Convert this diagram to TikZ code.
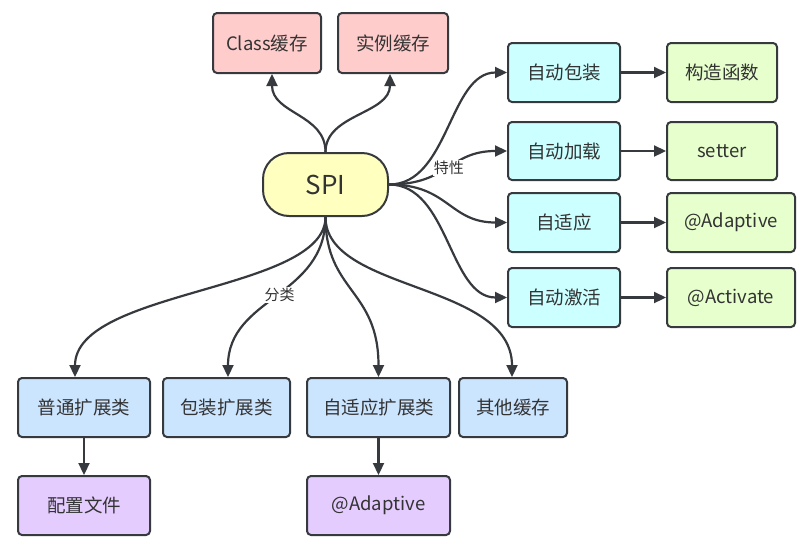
\documentclass[tikz,border=0pt]{standalone}
\usepackage{fontspec}
\setmainfont{Noto Sans CJK SC}
\usetikzlibrary{arrows.meta}
\definecolor{edge}{HTML}{36393D}
\definecolor{txt}{HTML}{333333}
\definecolor{pinkf}{HTML}{FFCCCC}
\definecolor{yelf}{HTML}{FFFFC0}
\definecolor{cyanf}{HTML}{CCFFFF}
\definecolor{greenf}{HTML}{E6FFCC}
\definecolor{bluef}{HTML}{CCE5FF}
\definecolor{purplef}{HTML}{E5CCFF}
\tikzset{
  box/.style={draw=edge, line width=2pt, rounded corners=4pt, minimum height=59pt, inner sep=0pt, text=txt, font=\fontsize{18.5}{21}\selectfont},
  conn/.style={draw=edge, line width=2.2pt, -{Triangle[length=12pt,width=11pt]}},
  lbl/.style={fill=white, inner sep=1pt, text=txt, font=\fontsize{15}{17}\selectfont}
}
\begin{document}
\begin{tikzpicture}[x=1pt,y=-1pt]
\useasboundingbox (0,0) rectangle (808,547);
% top
\node[box, fill=pinkf, minimum width=108pt, minimum height=60pt] (c1) at (267,43) {Class缓存};
\node[box, fill=pinkf, minimum width=110pt, minimum height=60pt] (c2) at (393,43) {实例缓存};
% center
\node[draw=edge, line width=2pt, fill=yelf, rounded corners=26pt, minimum width=125pt, minimum height=63pt, text=txt, font=\fontsize{26}{29}\selectfont] (spi) at (325.5,184.5) {SPI};
% right column 1
\node[box, fill=cyanf, minimum width=112pt] (r1) at (564,72.5) {自动包装};
\node[box, fill=cyanf, minimum width=112pt, minimum height=58pt] (r2) at (564,151) {自动加载};
\node[box, fill=cyanf, minimum width=112pt] (r3) at (564,222.5) {自适应};
\node[box, fill=cyanf, minimum width=112pt] (r4) at (564,297.5) {自动激活};
% right column 2
\node[box, fill=greenf, minimum width=110pt] (g1) at (722,72.5) {构造函数};
\node[box, fill=greenf, minimum width=110pt, minimum height=58pt] (g2) at (722,151) {setter};
\node[box, fill=greenf, minimum width=128pt] (g3) at (731,222.5) {@Adaptive};
\node[box, fill=greenf, minimum width=128pt] (g4) at (731,297.5) {@Activate};
% bottom row
\node[box, fill=bluef, minimum width=132pt] (b1) at (84,407.5) {普通扩展类};
\node[box, fill=bluef, minimum width=127pt] (b2) at (226.5,407.5) {包装扩展类};
\node[box, fill=bluef, minimum width=143pt] (b3) at (378.5,407.5) {自适应扩展类};
\node[box, fill=bluef, minimum width=108pt] (b4) at (513,407.5) {其他缓存};
\node[box, fill=purplef, minimum width=132pt] (p1) at (84,505.5) {配置文件};
\node[box, fill=purplef, minimum width=143pt] (p2) at (378.5,505.5) {@Adaptive};
% top connectors
\draw[conn] (spi.north) .. controls +(0,-38) and +(0,40) .. ([xshift=5pt]c1.south);
\draw[conn] (spi.north) .. controls +(0,-38) and +(0,40) .. ([xshift=-3pt]c2.south);
% right connectors
\draw[conn] (spi.east) .. controls +(60,0) and +(-58,0) .. (r1.west);
\draw[conn] (spi.east) .. controls +(60,0) and +(-58,0) .. node[lbl, pos=0.5] {特性} (r2.west);
\draw[conn] (spi.east) .. controls +(60,0) and +(-58,0) .. (r3.west);
\draw[conn] (spi.east) .. controls +(60,0) and +(-58,0) .. (r4.west);
\draw[conn] (r1) -- (g1);
\draw[conn] (r2) -- (g2);
\draw[conn] (r3) -- (g3);
\draw[conn] (r4) -- (g4);
% bottom connectors
\draw[conn] (spi.south) .. controls +(0,75) and +(0,-88) .. ([xshift=-9pt]b1.north);
\draw[conn] (spi.south) .. controls +(0,80) and +(0,-80) .. node[lbl, pos=0.48] {分类} ([xshift=1.5pt]b2.north);
\draw[conn] (spi.south) .. controls +(0,75) and +(0,-88) .. (b3.north);
\draw[conn] (spi.south) .. controls +(0,75) and +(0,-95) .. ([xshift=-1pt]b4.north);
\draw[conn] (b1) -- (p1);
\draw[conn] (b3) -- (p2);
\end{tikzpicture}
\end{document}
